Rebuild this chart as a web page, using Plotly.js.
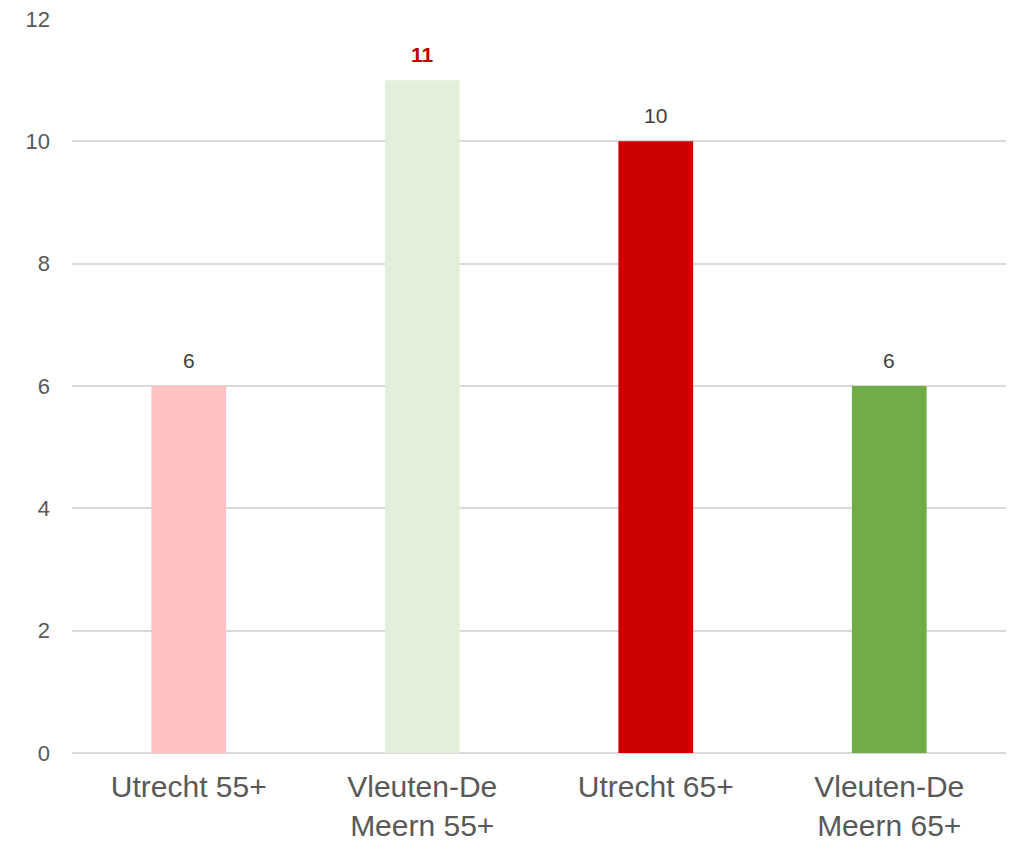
<!DOCTYPE html>
<html>
<head>
<meta charset="utf-8">
<script src="https://cdn.plot.ly/plotly-3.0.1.min.js"></script>
<style>html,body{margin:0;padding:0;background:#fff;}#chart{width:1013px;height:843px;}</style>
</head>
<body>
<div id="chart"></div>
<script>
const categories = ["Utrecht 55+", "Vleuten-De<br>Meern 55+", "Utrecht 65+", "Vleuten-De<br>Meern 65+"];
const values = [6, 11, 10, 6];
const barColors = ["#FFC1C1", "#E2EFDA", "#CC0000", "#70AD47"];
const labelColors = ["#404040", "#C00000", "#404040", "#404040"];
const labelBold = [false, true, false, false];
const yTicks = [0, 2, 4, 6, 8, 10, 12];

const trace = {
  type: "bar",
  x: categories,
  y: values,
  marker: {color: barColors},
  width: 0.32,
  hoverinfo: "none"
};

const annotations = categories.map((c, i) => ({
  x: c, y: values[i], xref: "x", yref: "y",
  text: labelBold[i] ? "<b>" + values[i] + "</b>" : String(values[i]),
  showarrow: false, yanchor: "bottom", yshift: 12,
  font: {family: "Liberation Sans, Arial, sans-serif", size: 21, color: labelColors[i]}
}));

const layout = {
  width: 1013, height: 843,
  margin: {l: 72, r: 7, t: 19, b: 90},
  paper_bgcolor: "#fff", plot_bgcolor: "#fff",
  showlegend: false,
  font: {family: "Liberation Sans, Arial, sans-serif", color: "#595959"},
  xaxis: {
    type: "category",
    tickfont: {size: 30, color: "#595959"},
    showgrid: false, zeroline: false, showline: false, ticks: "",
    ticklabelstandoff: 13
  },
  yaxis: {
    range: [0, 12],
    tickvals: yTicks,
    tickfont: {size: 22, color: "#595959"},
    showgrid: true, gridcolor: "#D9D9D9", gridwidth: 2,
    zeroline: true, zerolinecolor: "#D9D9D9", zerolinewidth: 2,
    showline: false, ticks: "",
    ticklabelstandoff: 21
  },
  annotations: annotations
};

Plotly.newPlot("chart", [trace], layout, {displayModeBar: false, staticPlot: true});
</script>
</body>
</html>
